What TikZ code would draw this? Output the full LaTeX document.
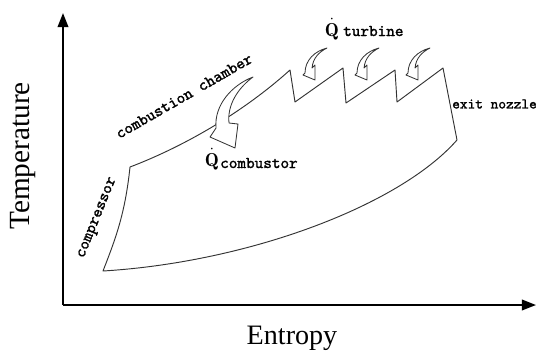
\documentclass[tikz,border=0pt]{standalone}
\usepackage{fontspec}
\newfontfamily\axisfont{Liberation Serif}
\newfontfamily\procfont{lmmono10-regular.otf}[FakeBold=1.6]
\usetikzlibrary{arrows.meta}
\tikzset{
  axis/.style={line width=1.6pt, -{Triangle[length=12pt,width=9pt]}},
  cycleline/.style={line width=0.8pt, draw=black!80, line join=round},
  heatarrow/.style={draw=black!80, line width=0.7pt, fill=white, line join=round},
  proclabel/.style={font=\fontsize{14}{15}\selectfont\procfont, inner sep=0pt},
  axislabel/.style={font=\fontsize{24}{25}\selectfont\axisfont, inner sep=0pt},
  qlabel/.style={font=\fontsize{16}{17}\selectfont, inner sep=0pt}
}

\begin{document}
\begin{tikzpicture}[x=0.03cm,y=-0.03cm]
\useasboundingbox (0,0) rectangle (536,356);
% axes
\coordinate (origin) at (63,305);
\coordinate (ytip) at (63,13);
\coordinate (xtip) at (536,305);
\draw[axis] (origin) -- (ytip);
\draw[axis] (origin) -- (xtip);
\node[axislabel, font=\fontsize{25}{26}\selectfont\axisfont, rotate=90] (tlab) at (23,156) {Temperature};
\node[axislabel] (slab) at (292,338) {Entropy};
% cycle states
\coordinate (p1) at (103,271);
\coordinate (p2) at (130,167);
\coordinate (p3) at (290,70);
\coordinate (p4) at (295,102);
\coordinate (p5) at (343,68);
\coordinate (p6) at (346,103);
\coordinate (p7) at (395,70);
\coordinate (p8) at (397,102);
\coordinate (p9) at (443,68);
\coordinate (p10) at (457,140);
\draw[cycleline] (p1) .. controls (115,240) and (125,215) .. (p2)
  .. controls (180,148) and (240,115) .. (p3) -- (p4) -- (p5) -- (p6)
  -- (p7) -- (p8) -- (p9) -- (p10)
  .. controls (400,205) and (250,262) .. (p1) -- cycle;
% heat added in the combustor
\draw[heatarrow] (253,77) .. controls (232,85) and (214,105) .. (216,128)
  -- (210,137) -- (235,148) -- (238,124) -- (229,123)
  .. controls (227,105) and (238,88) .. (253,77) -- cycle;
% heat added along the turbine
\foreach \ax in {327,379,430} {
  \draw[heatarrow, shift={(\ax,48)}] (0,0) .. controls (-12,3) and (-22,12) .. (-22,25)
    -- (-24,27) -- (-12,32) -- (-12,17) -- (-15,20)
    .. controls (-14,10) and (-8,4) .. (0,0) -- cycle;
}
% labels
\node[proclabel, rotate=68] (comp) at (98,218) {compressor};
\node[proclabel, rotate=30] (comb) at (184,96) {combustion chamber};
\node[proclabel, font=\fontsize{12.5}{13}\selectfont\procfont, anchor=west] (nozz) at (452,104) {exit nozzle};
\node[qlabel, anchor=base] (qcomb) at (212,166) {$\dot{\mathbf{Q}}$};
\node[proclabel, anchor=base west] (combtxt) at (220,168) {combustor};
\node[qlabel, anchor=base] (qturb) at (332,36) {$\dot{\mathbf{Q}}$};
\node[proclabel, anchor=base west] (turbtxt) at (343,36) {turbine};
\end{tikzpicture}
\end{document}
